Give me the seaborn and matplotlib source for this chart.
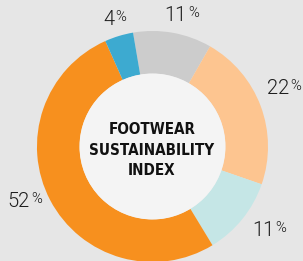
import matplotlib
matplotlib.use("Agg")
import matplotlib.pyplot as plt
import seaborn as sns
import pandas as pd
from matplotlib import font_manager
from matplotlib.patches import Circle

# ---- data ----
categories = ["Gray", "Peach", "Cyan", "Orange", "Blue"]
shares = [11, 22, 11, 52, 4]
value_labels = ["11", "22", "11", "52", "4"]
slice_colors = ["#CCCCCC", "#FDC590", "#C5E6E6", "#F7901E", "#3DAAD0"]
title_lines = ["FOOTWEAR", "SUSTAINABILITY", "INDEX"]

df = pd.DataFrame({"category": categories, "share": shares,
                   "label": value_labels, "color": slice_colors})

sns.set_style("white")

W, H = 303, 261
BG = "#E6E6E6"
fig = plt.figure(figsize=(W / 100, H / 100), dpi=100, facecolor=BG)
ax = fig.add_axes([0, 0, 1, 1])
ax.set_facecolor(BG)

wedges, _ = ax.pie(df["share"], colors=df["color"], startangle=99.7,
                   counterclock=False, radius=1,
                   wedgeprops=dict(width=0.37, linewidth=0))
ax.add_patch(Circle((0, 0), 0.632, facecolor="#F4F4F4", edgecolor="none", zorder=3))

ax.set_aspect("equal")
ax.set_xlim(-1.320, 1.303)
ax.set_ylim(-0.991, 1.268)
ax.axis("off")

ttf = font_manager.fontManager.ttflist
names = {f.name for f in ttf}

def wnum(w):
    if isinstance(w, int):
        return w
    return {"light": 300, "normal": 400, "regular": 400, "book": 400, "bold": 700}.get(str(w).lower(), 400)

label_props = dict(family="Liberation Sans" if "Liberation Sans" in names else "DejaVu Sans")
for cand in ["Roboto", "Lato", "Open Sans", "Inter"]:
    if any(f.name == cand and wnum(f.weight) == 300 and f.style == "normal" for f in ttf):
        label_props = dict(family=cand, weight=300)
        break

def px(x, y):
    return x / W, 1 - y / H

# label anchor: right edge of number, baseline (pixels)
label_anchor = [(187, 21), (289, 94), (274, 236), (30, 207), (114, 25)]
for lab, (xr, yb) in zip(df["label"], label_anchor):
    ax.text(*px(xr, yb), lab, transform=ax.transAxes, ha="right", va="baseline",
            fontsize=14.5, color="#1E1E1E", **label_props)
    ax.text(*px(xr + 1, yb - 4), "%", transform=ax.transAxes, ha="left", va="baseline",
            fontsize=10.5, color="#1E1E1E", **label_props)

# center title
cond = [f for f in ttf
        if ("Narrow" in f.name or f.stretch in ("condensed", "semi-condensed"))
        and wnum(f.weight) >= 700]
if any(f.name == "Liberation Sans Narrow" for f in cond):
    tprops = dict(family="Liberation Sans Narrow", weight="bold")
elif cond:
    tprops = dict(family=cond[0].name, weight="bold", stretch=cond[0].stretch)
else:
    tprops = dict(family="DejaVu Sans", weight="bold")

baselines = [134, 155, 175]
texts = []
for line, yb in zip(title_lines, baselines):
    t = ax.text(*px(152, yb), line, transform=ax.transAxes, ha="center", va="baseline",
                fontsize=12, color="#111111", zorder=5, **tprops)
    texts.append(t)

fig.canvas.draw()
r = fig.canvas.get_renderer()
w = texts[1].get_window_extent(r).width
scale = 125 / w
for t in texts:
    t.set_fontsize(12 * scale)

fig.savefig("out.png", dpi=100, facecolor=BG)
